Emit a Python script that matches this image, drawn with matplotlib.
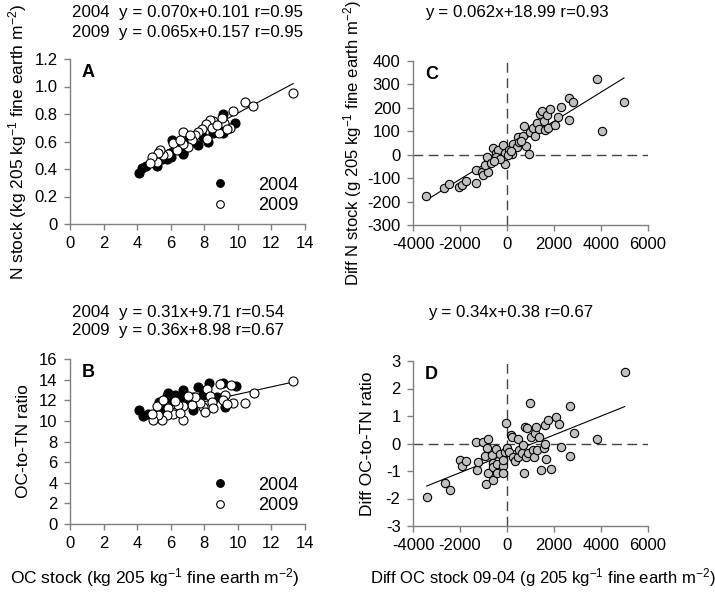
import matplotlib
matplotlib.use("Agg")
import matplotlib.pyplot as plt

plt.rcParams['font.family'] = ['Liberation Sans', 'DejaVu Sans']
plt.rcParams['axes.unicode_minus'] = False
plt.rcParams['mathtext.default'] = 'regular'
plt.rcParams['font.size'] = 12

# ---------------- Data ----------------
# Panel A: N stock vs OC stock
a04_x = [4.11, 4.27, 4.53, 5.2, 5.76, 6.02, 6.71, 7.64, 8.24, 9.13, 9.83, 9.13, 6.05, 5.95,
         7.35, 7.94, 8.54, 8.93, 6.75, 6.4, 7.1, 8.7, 5.5]
a04_y = [0.373, 0.41, 0.42, 0.42, 0.475, 0.49, 0.52, 0.575, 0.60, 0.80, 0.737, 0.665, 0.61, 0.513,
         0.60, 0.636, 0.66, 0.69, 0.51, 0.56, 0.62, 0.72, 0.47]
a09_x = [13.3, 10.42, 10.92, 9.73, 9.53, 9.19, 8.9, 9.03, 8.54, 8.34, 8.08, 7.84, 8.14, 7.64, 7.44,
         7.24, 7.05, 6.75, 6.71, 6.35, 6.16, 5.86, 5.56, 5.36, 5.26, 5.16, 4.87, 4.76, 6.55, 7.15,
         8.44, 8.74, 9.33]
a09_y = [0.95, 0.885, 0.86, 0.825, 0.70, 0.735, 0.66, 0.77, 0.75, 0.756, 0.73, 0.69, 0.62, 0.67, 0.648,
         0.61, 0.56, 0.67, 0.58, 0.54, 0.588, 0.51, 0.50, 0.54, 0.514, 0.45, 0.49, 0.446, 0.61, 0.648,
         0.70, 0.72, 0.69]
a_fit = (0.065, 0.157)

# Panel B: OC-to-TN ratio vs OC stock
b04_x = [4.13, 4.33, 4.67, 5.32, 5.86, 5.8, 6.25, 6.75, 7.64, 8.3, 9.13, 9.88, 9.23, 7.3, 7.94,
         8.73, 6.55, 7.35, 6.05, 5.56, 7.0, 8.0]
b04_y = [11.06, 10.5, 10.63, 11.86, 12.73, 12.4, 12.5, 12.99, 13.32, 13.7, 13.7, 13.39, 11.38, 11.06, 12.5,
         12.28, 12.35, 12.28, 12.0, 11.2, 11.8, 12.9]
b09_x = [13.3, 10.98, 10.42, 9.73, 9.57, 8.93, 9.23, 9.09, 8.14, 8.34, 8.44, 7.94, 8.04, 7.74, 7.44,
         7.24, 7.05, 6.75, 6.75, 6.45, 6.25, 6.16, 5.86, 5.76, 5.46, 5.26, 5.16, 4.96, 4.87, 5.56,
         6.55, 8.54, 9.33]
b09_y = [13.9, 12.73, 11.71, 11.77, 13.48, 13.55, 12.51, 12.03, 13.06, 12.42, 11.86, 11.38, 10.9, 11.7, 12.35,
         11.55, 12.4, 11.45, 10.09, 11.54, 11.93, 10.67, 11.22, 10.57, 10.09, 10.57, 11.45, 10.09, 10.7, 12.0,
         10.73, 11.25, 11.6]
b_fit = (0.36, 8.98)

# Panel C: Diff N stock vs Diff OC stock
c_x = [-3447, -2667, -2454, -2030, -1929, -1759, -1333, -1333, -1078, -1007, -794, -936, -865, -695,
       -610, -468, -369, -184, -71, -71, 99, 199, 270, 411, 482, 525, 695, 723, 809, 950, 979, 1121,
       1191, 1262, 1376, 1404, 1475, 1574, 1617, 1688, 1759, 1830, 2043, 2156, 2298, 2638, 2652,
       2823, 3816, 4043, 4979, -468, 36, -300, 150, 600, -550]
c_y = [-175, -143, -126, -136, -131, -114, -119, -65, -72, -87, -75, -44, -8, -34,
       27, 6, 20, 41, -41, 6, 20, 2, 46, 34, 74, 56, 80, 122, 37, 3, 97, 113,
       80, 134, 108, 174, 188, 145, 105, 168, 113, 196, 125, 162, 205, 148, 243,
       225, 322, 100, 224, -11, -1, -20, 15, 60, -25]
c_fit = (0.062, 18.99)

# Panel D: Diff OC-to-TN ratio vs Diff OC stock
d_x = [-3417, -2638, -2426, -2000, -1929, -1745, -1291, -1220, -1319, -1007, -794, -865, -936, -894,
       -823, -652, -610, -582, -600, -468, -440, -411, -298, -184, -156, -180, -85, -43, 14, 99,
       156, 213, 270, 340, 454, 482, 525, 624, 695, 738, 766, 809, 865, 908, 979, 1007, 1121,
       1149, 1191, 1220, 1291, 1376, 1433, 1574, 1617, 1617, 1645, 1759, 1872, 2085, 2213, 2298,
       2681, 2681, 2851, 3844, 5007]
d_y = [-1.96, -1.45, -1.69, -0.6, -0.82, -0.62, -0.96, -0.69, 0.05, 0.05, 0.15, -0.15, -0.47, -1.47,
       -1.09, -0.42, -0.7, -1.33, -0.87, -0.21, -0.75, -1.06, -0.38, -0.82, -1.06, -0.6, -0.3, 0.76, -0.18, -0.3,
       0.31, 0.22, -0.48, -0.63, 0.18, -0.48, -0.24, -0.33, -0.05, -1.06, 0.59, -0.5, 0.55, -0.36, 1.46, 0.22, -0.24,
       -0.5, 0.37, 0.61, -0.24, 0.25, -0.97, -0.17, 0.67, 0.0, -0.58, 0.87, -0.94, 0.95, 0.71, -0.14,
       1.37, -0.45, 0.37, 0.15, 2.59]
d_fit = (0.000343, -0.375)

# ---------------- Figure ----------------
W, H = 715, 596
fig = plt.figure(figsize=(W / 100, H / 100), dpi=100)

def ax_at(l, t, r, b):
    return fig.add_axes([l / W, 1 - b / H, (r - l) / W, (b - t) / H])

axA = ax_at(70, 59, 305, 224)
axB = ax_at(70, 359, 305, 524)
axC = ax_at(413, 61, 648, 225)
axD = ax_at(413, 361, 648, 526)

spine_col = '#808080'
for ax in (axA, axB, axC, axD):
    for s in ('top', 'right'):
        ax.spines[s].set_visible(False)
    for s in ('left', 'bottom'):
        ax.spines[s].set_color(spine_col)
        ax.spines[s].set_linewidth(1.0)
    ax.tick_params(direction='out', length=4, width=1.0, color=spine_col,
                   labelsize=12, labelcolor='black', pad=5)

def fitline(ax, xs, coef, zorder=1):
    lo, hi = min(xs), max(xs)
    ax.plot([lo, hi], [coef[0] * lo + coef[1], coef[0] * hi + coef[1]],
            color='black', lw=0.8, zorder=zorder)

leg_kw = dict(loc='lower right', bbox_to_anchor=(1.04, -0.04), frameon=False, handletextpad=1.6,
              handlelength=1.0, labelspacing=0.2, fontsize=13, markerscale=0.85)

# Panel A
fitline(axA, a09_x, a_fit)
axA.plot(a04_x, a04_y, 'o', ms=6.5, mfc='black', mec='black', mew=0.8, label='2004', zorder=3)
axA.plot(a09_x, a09_y, 'o', ms=6.5, mfc='white', mec='black', mew=0.8, label='2009', zorder=4)
axA.set_xlim(0, 14)
axA.set_ylim(0, 1.2)
axA.set_xticks(range(0, 15, 2))
axA.set_yticks([0, 0.2, 0.4, 0.6, 0.8, 1.0, 1.2])
axA.set_yticklabels(['0', '0.2', '0.4', '0.6', '0.8', '1.0', '1.2'])
axA.legend(**leg_kw)

# Panel B
fitline(axB, b09_x, b_fit)
axB.plot(b04_x, b04_y, 'o', ms=6.5, mfc='black', mec='black', mew=0.8, label='2004', zorder=3)
axB.plot(b09_x, b09_y, 'o', ms=6.5, mfc='white', mec='black', mew=0.8, label='2009', zorder=4)
axB.set_xlim(0, 14)
axB.set_ylim(0, 16)
axB.set_xticks(range(0, 15, 2))
axB.set_yticks(range(0, 17, 2))
axB.legend(**leg_kw)

# Panel C
dash_kw = dict(color='#444444', lw=1.0, dashes=(7, 4), zorder=1)
axC.axhline(0, **dash_kw)
axC.axvline(0, **dash_kw)
fitline(axC, c_x, c_fit, zorder=2)
axC.plot(c_x, c_y, 'o', ms=6, mfc='#c0c0c0', mec='black', mew=0.8, zorder=3)
axC.set_xlim(-4000, 6000)
axC.set_ylim(-300, 400)
axC.set_xticks(range(-4000, 6001, 2000))
axC.set_yticks(range(-300, 401, 100))

# Panel D
axD.axhline(0, **dash_kw)
axD.axvline(0, **dash_kw)
fitline(axD, d_x, d_fit, zorder=2)
axD.plot(d_x, d_y, 'o', ms=6, mfc='#c0c0c0', mec='black', mew=0.8, zorder=3)
axD.set_xlim(-4000, 6000)
axD.set_ylim(-3, 3)
axD.set_xticks(range(-4000, 6001, 2000))
axD.set_yticks(range(-3, 4, 1))

# Panel letters
for ax, lab in ((axA, 'A'), (axB, 'B'), (axC, 'C'), (axD, 'D')):
    ax.text(0.05, 0.97, lab, transform=ax.transAxes, fontsize=13, fontweight='bold',
            ha='left', va='top')

# Axis labels
axA.set_ylabel('N stock (kg 205 kg$^{-1}$ fine earth m$^{-2}$)', fontsize=12.5, labelpad=4)
axB.set_ylabel('OC-to-TN ratio', fontsize=12.5, labelpad=6)
axC.set_ylabel('Diff N stock (g 205 kg$^{-1}$ fine earth m$^{-2}$)', fontsize=12, labelpad=2)
axD.set_ylabel('Diff OC-to-TN ratio', fontsize=12.5, labelpad=8)

fig.text(155 / W, 1 - 578 / H, 'OC stock (kg 205 kg$^{-1}$ fine earth m$^{-2}$)',
         ha='center', va='center', fontsize=12.5)
fig.text(543 / W, 1 - 578 / H, 'Diff OC stock 09-04 (g 205 kg$^{-1}$ fine earth m$^{-2}$)',
         ha='center', va='center', fontsize=12)

# Equations
eq_kw = dict(ha='left', va='center', fontsize=12.2)
fig.text(72 / W, 1 - 13 / H, '2004  y = 0.070x+0.101 r=0.95', **eq_kw)
fig.text(72 / W, 1 - 32 / H, '2009  y = 0.065x+0.157 r=0.95', **eq_kw)
fig.text(72 / W, 1 - 312 / H, '2004  y = 0.31x+9.71 r=0.54', **eq_kw)
fig.text(72 / W, 1 - 331 / H, '2009  y = 0.36x+8.98 r=0.67', **eq_kw)
fig.text(425 / W, 1 - 13 / H, 'y = 0.062x+18.99 r=0.93', **eq_kw)
fig.text(428 / W, 1 - 312 / H, 'y = 0.34x+0.38 r=0.67', **eq_kw)

fig.savefig('out.png', dpi=100)
